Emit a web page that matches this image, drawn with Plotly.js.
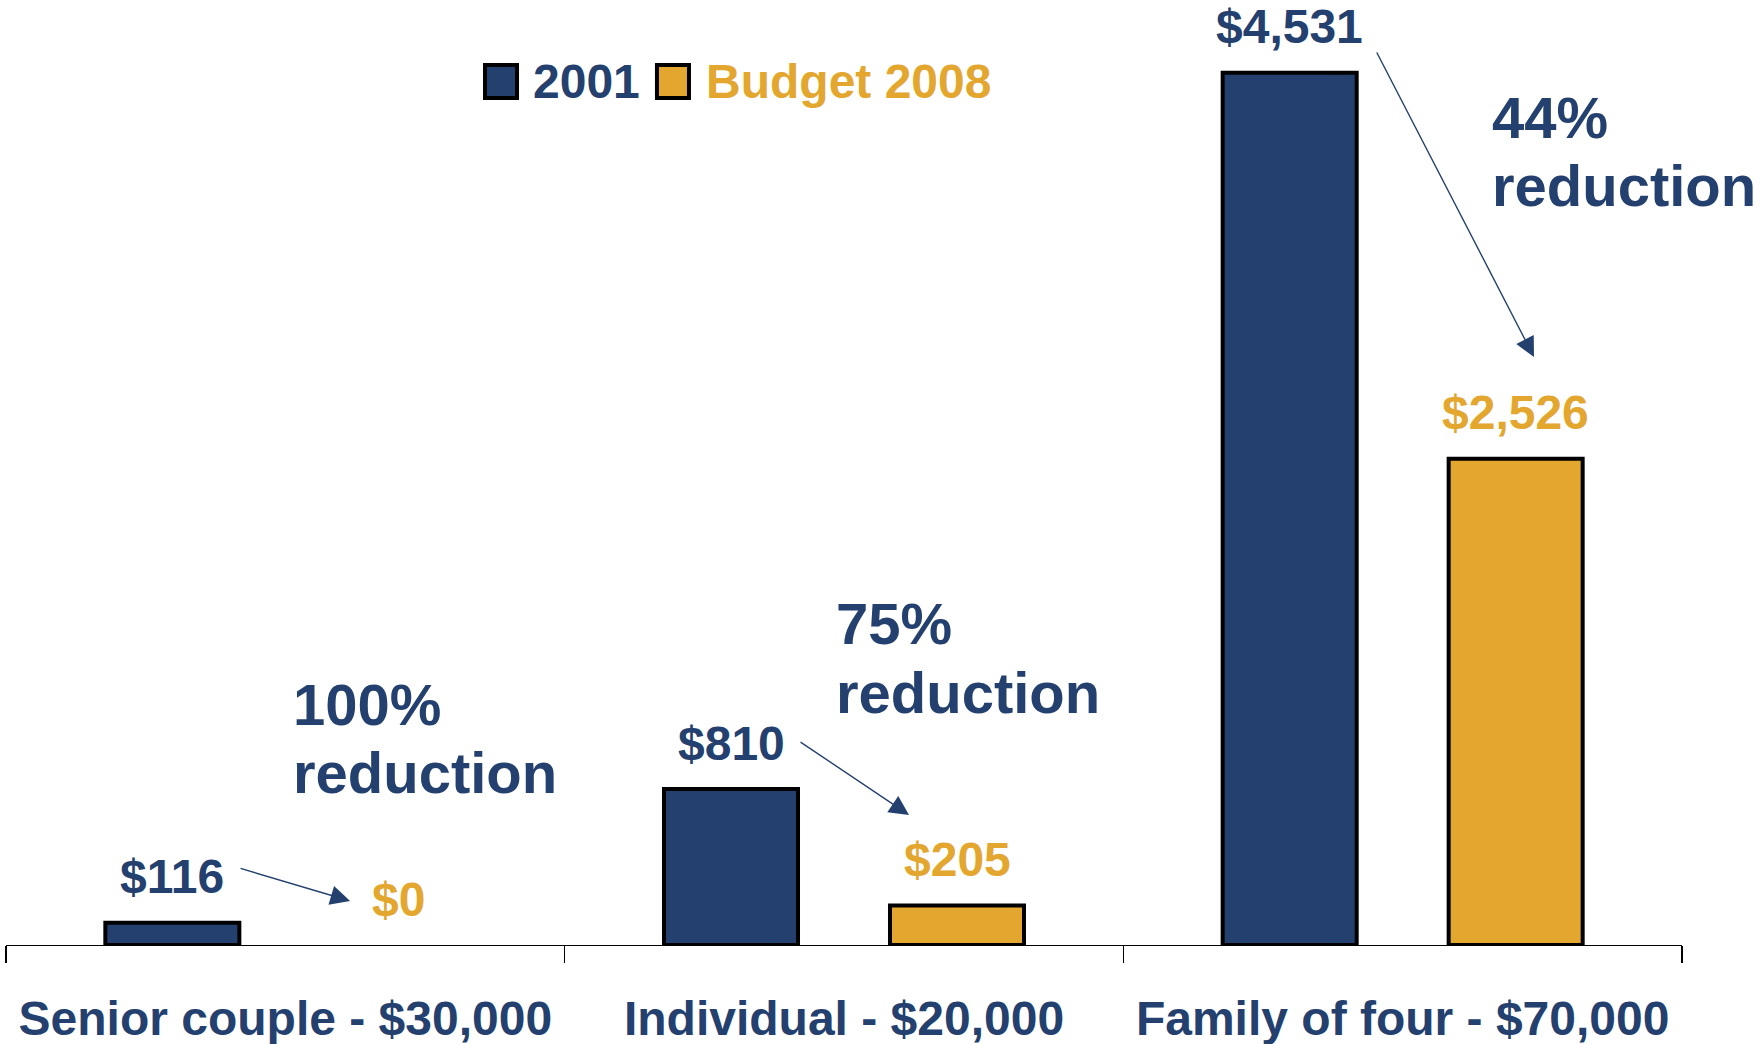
<!DOCTYPE html>
<html>
<head>
<meta charset="utf-8">
<script src="https://cdn.plot.ly/plotly-3.0.1.min.js"></script>
<style>html,body{margin:0;padding:0;background:#fff;}#chart{width:1760px;height:1044px;}</style>
</head>
<body>
<div id="chart"></div>
<script>
// ---- data ----
const categories = ["Senior couple - $30,000", "Individual - $20,000", "Family of four - $70,000"];
const series2001 = [116, 810, 4531];
const seriesBudget2008 = [0, 205, 2526];
const seriesNames = ["2001", "Budget 2008"];
const reductionPct = ["100%", "75%", "44%"];

// ---- style ----
const NAVY = "#23406F";
const GOLD = "#E3A72F";
const FONT = "Liberation Sans, Arial, Helvetica, sans-serif";
const BAR_OFFSET = 113;   // px from category centre to bar centre
const LABEL_LIFT = 46;    // px from bar top to label centre
const OUTLINE = 4;

const fmt = v => "$" + v.toLocaleString("en-US");
const outlineFor = arr => arr.map(v => (v === 0 ? 0 : OUTLINE));

const traces = [
  {type: "bar", name: seriesNames[0], x: categories, y: series2001,
   marker: {color: NAVY, line: {color: "#000", width: outlineFor(series2001)}}, showlegend: false, hoverinfo: "skip"},
  {type: "bar", name: seriesNames[1], x: categories, y: seriesBudget2008,
   marker: {color: GOLD, line: {color: "#000", width: outlineFor(seriesBudget2008)}}, showlegend: false, hoverinfo: "skip"}
];

const annotations = [];
categories.forEach((c, i) => {
  annotations.push({x: c, y: series2001[i], xref: "x", yref: "y", text: fmt(series2001[i]),
    showarrow: false, xshift: -BAR_OFFSET, yshift: LABEL_LIFT, yanchor: "middle",
    font: {family: FONT, size: 48, color: NAVY, weight: "bold"}});
  annotations.push({x: c, y: seriesBudget2008[i], xref: "x", yref: "y", text: fmt(seriesBudget2008[i]),
    showarrow: false, xshift: BAR_OFFSET, yshift: LABEL_LIFT, yanchor: "middle",
    font: {family: FONT, size: 48, color: GOLD, weight: "bold"}});
});

// reduction callouts (paper coords)
const redPos = [
  {x: 0.1700, y1: 0.2605, y2: 0.1870},
  {x: 0.4940, y1: 0.3481, y2: 0.2735},
  {x: 0.8854, y1: 0.8941, y2: 0.8216}
];
reductionPct.forEach((p, i) => {
  const f = {family: FONT, size: 58, color: NAVY, weight: "bold"};
  annotations.push({xref: "paper", yref: "paper", x: redPos[i].x, y: redPos[i].y1, text: p,
    showarrow: false, xanchor: "left", yanchor: "middle", font: f});
  annotations.push({xref: "paper", yref: "paper", x: redPos[i].x, y: redPos[i].y2, text: "reduction",
    showarrow: false, xanchor: "left", yanchor: "middle", font: f});
});

// arrows
const arrows = [
  {x: 0.2053, y: 0.0476, ax: -111, ay: -33},
  {x: 0.5388, y: 0.1405, ax: -110, ay: -74},
  {x: 0.9117, y: 0.6357, ax: -158, ay: -306}
];
arrows.forEach(a => annotations.push({xref: "paper", yref: "paper", x: a.x, y: a.y, ax: a.ax, ay: a.ay,
  text: "", showarrow: true, arrowhead: 2, arrowsize: 2.8, arrowwidth: 1.4, arrowcolor: NAVY, standoff: 0}));

// custom legend
const legendItems = [
  {x0: 0.2858, x1: 0.3049, tx: 0.3132, color: NAVY, name: seriesNames[0]},
  {x0: 0.3884, x1: 0.4075, tx: 0.4165, color: GOLD, name: seriesNames[1]}
];
const shapes = legendItems.map(l => ({type: "rect", xref: "paper", yref: "paper",
  x0: l.x0, x1: l.x1, y0: 0.9157, y1: 0.9514, fillcolor: l.color, line: {color: "#000", width: 4}}));
legendItems.forEach(l => annotations.push({xref: "paper", yref: "paper", x: l.tx, y: 0.9330,
  text: l.name, showarrow: false, xanchor: "left", yanchor: "middle",
  font: {family: FONT, size: 48, color: l.color, weight: "bold"}}));

const layout = {
  width: 1760, height: 1044,
  margin: {l: 6, r: 78, t: 20, b: 99},
  paper_bgcolor: "#fff", plot_bgcolor: "#fff",
  barmode: "group", bargap: 0.191, bargroupgap: 0.407,
  showlegend: false,
  font: {family: FONT},
  xaxis: {type: "category", showline: true, linecolor: "#000", linewidth: 1.3,
    ticks: "outside", tickson: "boundaries", ticklen: 17, tickwidth: 1.3, tickcolor: "#000",
    tickfont: {family: FONT, size: 48, color: NAVY, weight: "bold"}, showgrid: false, zeroline: false,
    ticklabelstandoff: 31},
  yaxis: {visible: false, range: [0, 4805], showgrid: false, zeroline: false},
  annotations: annotations,
  shapes: shapes
};

Plotly.newPlot("chart", traces, layout, {staticPlot: true, displayModeBar: false});
</script>
</body>
</html>
